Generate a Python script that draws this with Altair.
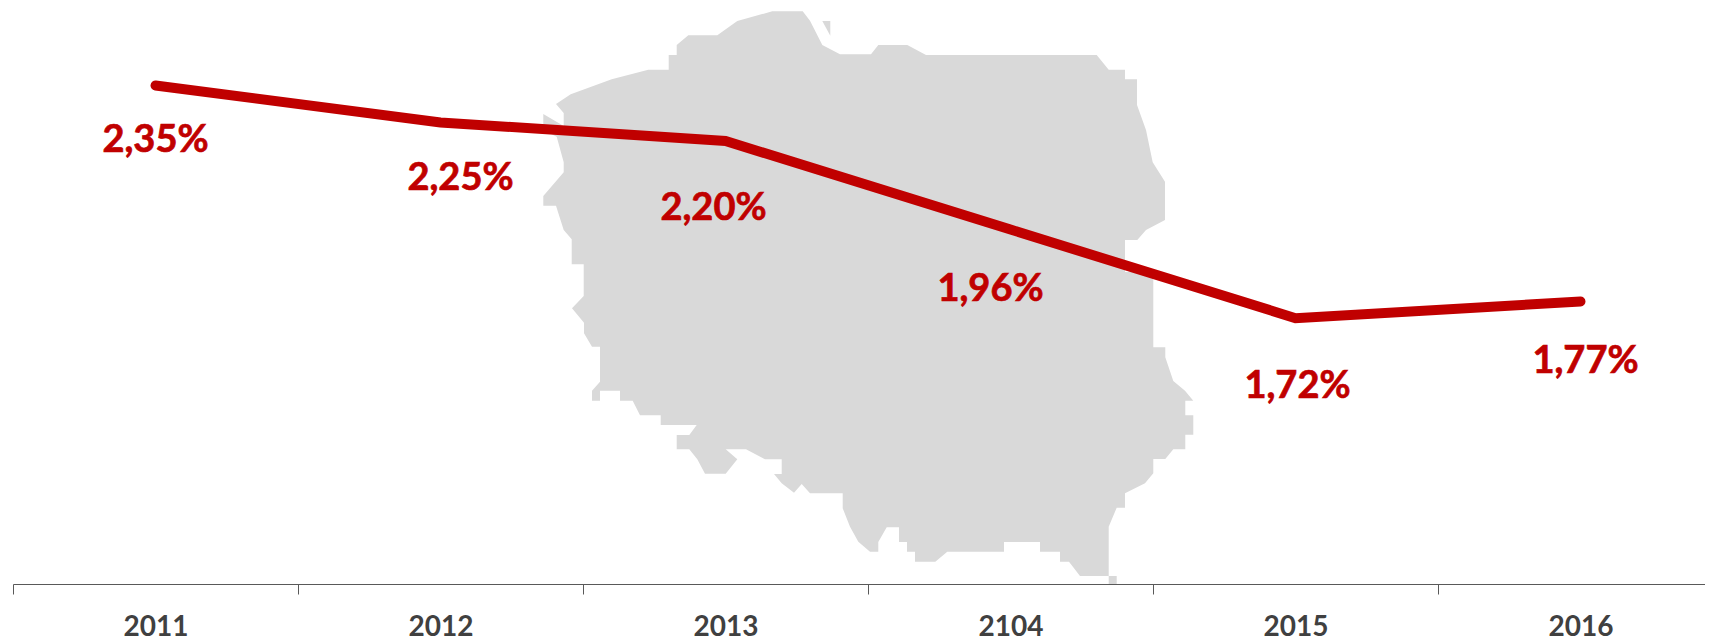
import altair as alt
import pandas as pd

YEARS = ["2011", "2012", "2013", "2104", "2015", "2016"]
RATES = [2.35, 2.25, 2.20, 1.96, 1.72, 1.765]
LABELS = ["2,35%", "2,25%", "2,20%", "1,96%", "1,72%", "1,77%"]

# Silhouette of Poland
MAP_MAIN = [
    (556, 104), (570.7, 94.3), (611.7, 79.3), (648.3, 69.7), (668.7, 69.7), (668.7, 55), (676.7, 55),
    (676.7, 45), (688.3, 35.3), (717.3, 35.3), (737.3, 21), (772.3, 11.3), (802.7, 11.3), (810, 20.7),
    (822.3, 45), (840, 54.3), (871, 54.3), (878.3, 45), (907.3, 45), (926, 55), (1096.7, 55),
    (1108.7, 69.7), (1125, 69.7), (1125, 79.3), (1137, 79.3), (1137, 105), (1146, 130), (1152.7, 162.3),
    (1165, 181.7), (1165, 220), (1146, 230), (1137.3, 240), (1125, 240), (1125, 272), (1153.3, 272),
    (1153.3, 347.3), (1165.3, 347.3), (1165.3, 357.3), (1173.3, 381), (1185, 390.7), (1193.3, 400.7),
    (1185.3, 400.7), (1185.3, 415.3), (1193.3, 415.3), (1193.3, 434.7), (1185.3, 434.7), (1185.3, 449.3),
    (1173.3, 449.3), (1165.3, 459), (1153.3, 459), (1153.3, 473.3), (1145, 483.3), (1125, 493.3),
    (1125, 507.7), (1116.7, 507.7), (1108.7, 526.7), (1108.7, 576), (1116.7, 576), (1116.7, 584),
    (1108.7, 584), (1108.7, 576), (1080, 576), (1069, 561.7), (1060, 561.7), (1060, 551.7), (1040, 551.7),
    (1040, 542), (1004, 542), (1004, 551.7), (947.3, 551.7), (935.3, 561.7), (915, 561.7), (915, 551.7),
    (907, 551.7), (907, 542), (899, 542), (899, 527.3), (886.7, 527.3), (878.3, 542), (878.3, 551.7),
    (870, 551.7), (858.3, 541.7), (850, 526.7), (842.7, 508.3), (842.7, 493.3), (810, 493.3), (801.7, 484),
    (794, 492.7), (781.7, 483.3), (774, 474), (781.7, 474), (781.7, 459.3), (765, 459.3), (746, 449.3),
    (725.7, 449.3), (737.3, 459.3), (725.7, 473.7), (705, 473.7), (697.3, 459.3), (689.3, 449.3),
    (676.7, 449.3), (676.7, 435), (689.3, 435), (696.7, 425), (660.7, 425), (660.7, 415.3), (640, 415.3),
    (632.7, 400.7), (620, 400.7), (620, 390.7), (600, 390.7), (600, 400.7), (592, 400.7), (592, 390.7),
    (600, 381.7), (600, 346.7), (592, 346.7), (584, 333.3), (584, 322.7), (572, 308.3), (583.7, 296),
    (583.7, 264.3), (571.7, 264.3), (571.7, 239.3), (563.7, 230), (556, 205.7), (543.3, 205.7), (543.3, 196),
    (563.7, 172.3), (563.7, 162.3), (556.7, 136.7), (543.3, 130), (543.3, 114), (563.7, 126), (563.7, 113),
]
MAP_ISLET = [(822.3, 21), (830.3, 21), (830.3, 35.7)]

# Layout
PAD_LEFT, PAD_TOP = 5, 0
ORIGIN_X, ORIGIN_Y = 8 + PAD_LEFT, 8 + PAD_TOP
LABEL_OFFSETS = {
    "2011": (0, 66), "2012": (20, 68), "2013": (-12, 79),
    "2104": (-20, 71), "2015": (2, 80), "2016": (5, 71),
}


def ring(points):
    shifted = [[x - ORIGIN_X, y - ORIGIN_Y] for x, y in points]
    return shifted + [shifted[0]]


feature = {
    "type": "Feature",
    "properties": {"name": "Polska"},
    "geometry": {
        "type": "MultiPolygon",
        "coordinates": [[ring(MAP_MAIN)], [ring(MAP_ISLET)]],
    },
}

df = pd.DataFrame({"year": YEARS, "rate": RATES, "label": LABELS})

x_scale = alt.Scale(domain=YEARS, range=[0, 1710], paddingInner=0, paddingOuter=0)
y_scale = alt.Scale(domain=[1.0, 2.56], nice=False, zero=False)

x_enc = alt.X(
    "year:N",
    scale=x_scale,
    sort=None,
    title=None,
    axis=alt.Axis(
        labelAngle=0,
        tickBand="extent",
        labelFont="Lato",
        labelFontWeight="bold",
        labelFontSize=28,
        labelColor="#404040",
        labelBaseline="alphabetic",
        labelPadding=41,
        labelOverlap=False,
        domainColor="#595959",
        domainWidth=1,
        tickColor="#595959",
        tickWidth=1,
        tickSize=10,
        grid=False,
    ),
)
y_enc = alt.Y("rate:Q", scale=y_scale, axis=None)

silhouette = alt.Chart(alt.InlineData(values=[feature])).mark_geoshape(
    fill="#D9D9D9", stroke=None
).project(type="identity", scale=1, translate=[0, 0])

line = alt.Chart(df).mark_line(
    color="#C00000", strokeWidth=10, strokeCap="round", strokeJoin="miter"
).encode(x=x_enc, y=y_enc)

texts = [
    alt.Chart(df[df.year == yr]).mark_text(
        font="Lato", fontWeight="bold", fontSize=38, color="#C00000",
        stroke="#C00000", strokeWidth=0.7,
        align="center", baseline="alphabetic", dx=off[0], dy=off[1],
    ).encode(x=alt.X("year:N", scale=x_scale, sort=None, title=None), y=y_enc, text="label:N")
    for yr, off in LABEL_OFFSETS.items()
]

chart = alt.layer(silhouette, line, *texts).properties(
    width=1692,
    height=576,
    padding={"left": PAD_LEFT, "top": PAD_TOP, "right": 0, "bottom": 54},
    autosize=alt.AutoSizeParams(type="none", contains="content"),
    background="white",
).configure_view(stroke=None)

chart.save("out.html", embed_options={"renderer": "svg", "actions": False})
